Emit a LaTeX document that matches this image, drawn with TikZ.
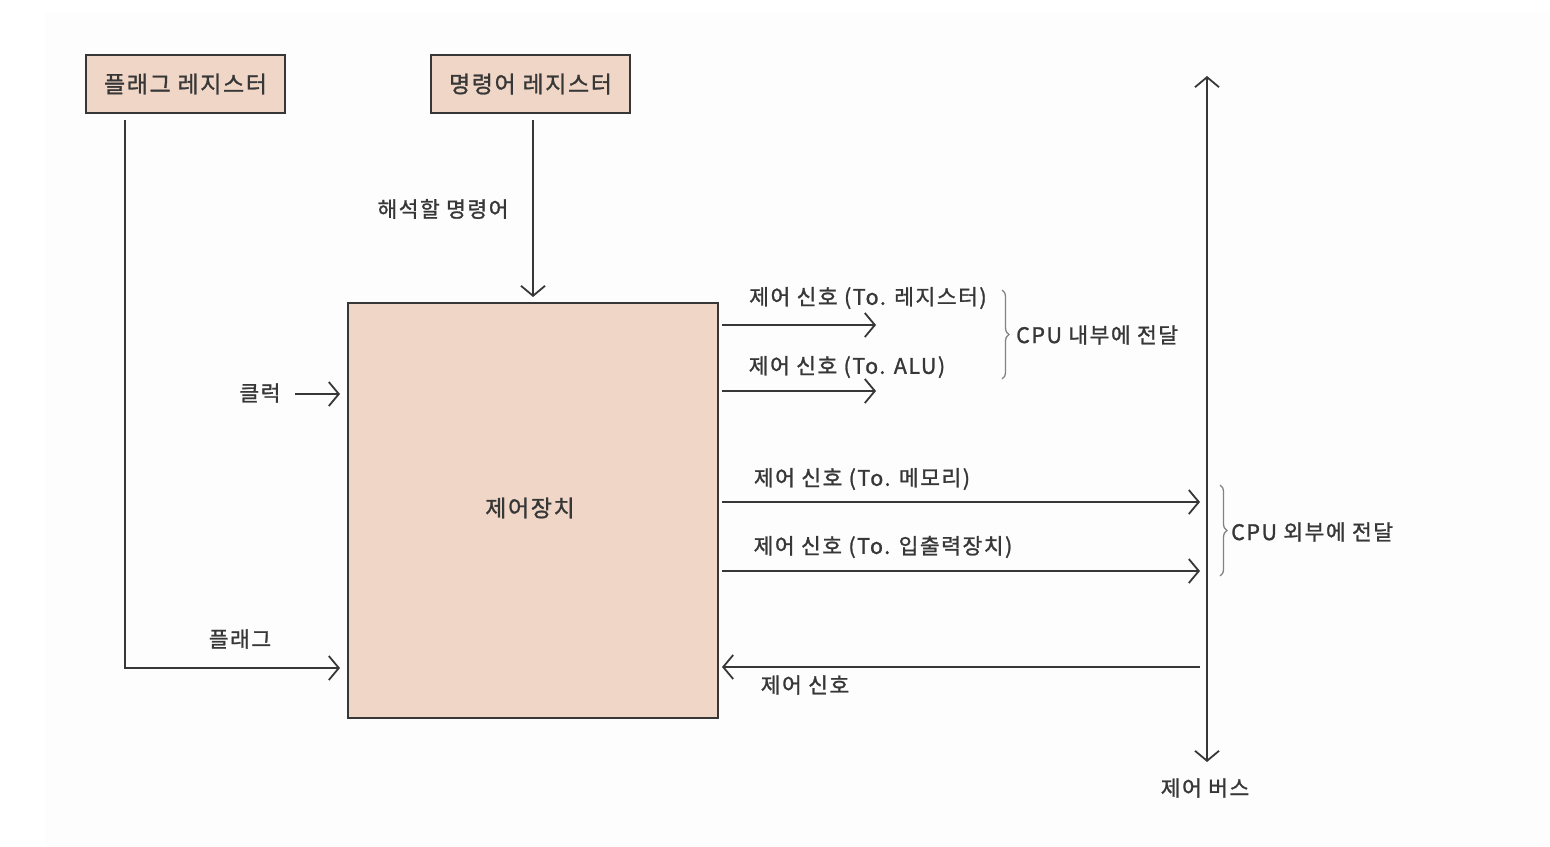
\documentclass[tikz,border=0pt]{standalone}
\usepackage{fontspec}
\setmainfont{Noto Sans CJK KR}
\newfontfamily\hand[LetterSpace=7,FakeBold=1.2]{Noto Sans CJK KR}
\usetikzlibrary{arrows.meta,decorations.pathreplacing}
\definecolor{peach}{RGB}{240,214,198}
\definecolor{ink}{RGB}{55,55,55}
\definecolor{txt}{RGB}{55,55,55}
\definecolor{bracec}{RGB}{130,130,130}
\definecolor{bg}{RGB}{253,253,253}
\tikzset{
  box/.style={draw=ink, line width=2pt, fill=peach, inner sep=0pt},
  lbl/.style={text=txt, font=\hand\fontsize{21.5}{25}\selectfont, inner sep=0pt},
  boxlbl/.style={text=txt, font=\hand\fontsize{23}{27}\selectfont, inner sep=0pt},
  conn/.style={draw=ink, line width=1.8pt},
  arr/.style={conn, -{Straight Barb[length=10pt,width=24pt,line width=1.8pt]}},
  darr/.style={conn, {Straight Barb[length=10pt,width=24pt,line width=1.8pt]}-{Straight Barb[length=10pt,width=24pt,line width=1.8pt]}},
  brc/.style={draw=bracec, line width=1.3pt, decorate, decoration={brace, amplitude=7pt}}
}
\begin{document}
\begin{tikzpicture}[x=1pt,y=-1pt]
\useasboundingbox (0,0) rectangle (1550,846);
\fill[white] (0,0) rectangle (1550,846);
\fill[bg] (45,12) rectangle (1550,846);

% boxes
\node[box, minimum width=199pt, minimum height=58pt] (freg) at (185.5,84) {};
\node[boxlbl] at (freg.center) {플래그 레지스터};
\node[box, minimum width=199pt, minimum height=58pt] (ireg) at (530.5,84) {};
\node[boxlbl] at (ireg.center) {명령어 레지스터};
\node[box, minimum width=370pt, minimum height=415pt] (cu) at (533,510.5) {};
\node[boxlbl] (culbl) at (530,508) {제어장치};

% flag register -> control unit
\coordinate (fcorner) at (125,668);
\coordinate (fin) at (340,668);
\coordinate (fstart) at (125,120);
\draw[arr] (fstart) -- (fcorner) -- (fin);
\node[lbl] (flbl) at (240,639) {플래그};

% instruction register -> control unit
\coordinate (itop) at (533,120);
\coordinate (ibot) at (533,297);
\draw[arr] (itop) -- (ibot);
\node[lbl] (ilbl) at (443,209) {해석할 명령어};

% clock
\node[lbl] (clk) at (260,393) {클럭};
\coordinate (cs) at (295,394);
\coordinate (ce) at (340,394);
\draw[arr] (cs) -- (ce);

% internal control signals
\coordinate (r1) at (876,325);
\coordinate (r2) at (876,391);
\draw[arr] ([xshift=3pt]cu.east |- r1) -- (r1);
\draw[arr] ([xshift=3pt]cu.east |- r2) -- (r2);
\node[lbl] (l1) at (868,298) {제어 신호 (To. 레지스터)};
\node[lbl] (l2) at (847,367) {제어 신호 (To. ALU)};
\coordinate (b1t) at (1002,290);
\coordinate (b1b) at (1002,379);
\draw[brc] (b1t) -- (b1b);
\node[lbl, anchor=west] (in) at (1016,335) {CPU 내부에 전달};

% control bus
\coordinate (bustop) at (1207,76);
\coordinate (busbot) at (1207,762);
\draw[darr] (bustop) -- (busbot);
\node[lbl] (buslbl) at (1205,788) {제어 버스};

% external control signals
\coordinate (r3) at (1200,502);
\coordinate (r4) at (1200,571);
\draw[arr] ([xshift=3pt]cu.east |- r3) -- (r3);
\draw[arr] ([xshift=3pt]cu.east |- r4) -- (r4);
\node[lbl] (l3) at (862,479) {제어 신호 (To. 메모리)};
\node[lbl] (l4) at (883,547) {제어 신호 (To. 입출력장치)};
\coordinate (b2t) at (1220,485);
\coordinate (b2b) at (1220,576);
\draw[brc] (b2t) -- (b2b);
\node[lbl, anchor=west] (out) at (1231,532) {CPU 외부에 전달};

% incoming control signal
\coordinate (r5) at (1200,667);
\draw[arr] (r5) -- ([xshift=3pt]cu.east |- r5);
\node[lbl] (l5) at (805,685) {제어 신호};
\end{tikzpicture}
\end{document}
